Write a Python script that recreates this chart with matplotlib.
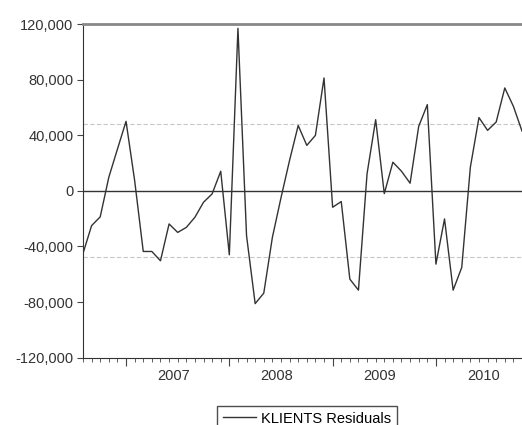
import numpy as np
import pandas as pd
import matplotlib
matplotlib.use('Agg')
import matplotlib.pyplot as plt
from matplotlib.ticker import FuncFormatter

plt.rcParams['font.family'] = ['Liberation Sans', 'DejaVu Sans']

# monthly residuals, Aug 2006 onwards
dates = pd.date_range('2006-08-01', periods=52, freq='MS')
residuals = [-45000, -25000, -18700, 9800, 30000, 50000, 7400, -43600, -43600, -50300,
             -23800, -29900, -26300, -19000, -8200, -2200, 14100, -46000, 116900, -32300,
             -81100, -73600, -33500, -5000, 22000, 47000, 32700, 39900, 81200, -11800,
             -7700, -63500, -71400, 12300, 51200, -2000, 20600, 14100, 5500, 46400,
             62000, -52700, -20200, -71400, -55100, 17000, 52700, 43500, 49500, 74000,
             60800, 43000]
band = 47900
y_ticks = [-120000, -80000, -40000, 0, 40000, 80000, 120000]
series_name = 'KLIENTS Residuals'

x = np.arange(len(dates))
jan_idx = [i for i, d in enumerate(dates) if d.month == 1]
years = [dates[i].year for i in jan_idx]

fig = plt.figure(figsize=(5.22, 4.25), dpi=100)
ax = fig.add_axes([83/522, 1-357.7/425, 1-83/522, (357.7-24)/425])

ax.axhline(band, color='#c8c8c8', linestyle=(0, (4, 2)), linewidth=0.8)
ax.axhline(-band, color='#c8c8c8', linestyle=(0, (4, 2)), linewidth=0.8)
ax.axhline(0, color='#333333', linewidth=1.0)
ax.plot(x, residuals, color='#333333', linewidth=1.0, label=series_name)

ax.set_xlim(0, 50.17)
ax.set_ylim(-120000, 120000)

# Y axis
ax.set_yticks(y_ticks)
ax.yaxis.set_major_formatter(FuncFormatter(lambda v, p: f'{int(v):,}'))
ax.tick_params(axis='y', direction='out', length=4, width=0.8, colors='#444444',
               labelsize=10.5, labelcolor='#333333', pad=3)

# X axis: long ticks at January, short ticks each month, year labels centred
ax.set_xticks(jan_idx)
ax.set_xticklabels([])
ax.set_xticks(x, minor=True)
ax.tick_params(axis='x', which='major', direction='out', length=6, width=0.8, colors='#444444')
ax.tick_params(axis='x', which='minor', direction='out', length=3, width=0.6, colors='#444444')
for i, yr in zip(jan_idx, years):
    ax.text(i + 5.5, -0.035, str(yr), transform=ax.get_xaxis_transform(),
            ha='center', va='top', fontsize=10.5, color='#333333')

ax.spines['right'].set_visible(False)
ax.spines['top'].set_color('#888888')
ax.spines['top'].set_linewidth(2)
ax.spines['left'].set_color('#333333')
ax.spines['bottom'].set_color('#333333')

leg = fig.legend(loc='upper center', bbox_to_anchor=(0.588, 1-405.7/425),
                 frameon=True, fancybox=False, fontsize=10.5, handlelength=2.3,
                 borderpad=0.4, handletextpad=0.3, borderaxespad=0)
leg.get_frame().set_edgecolor('#222222')
leg.get_frame().set_linewidth(1.0)

fig.savefig('out.png', dpi=100)
